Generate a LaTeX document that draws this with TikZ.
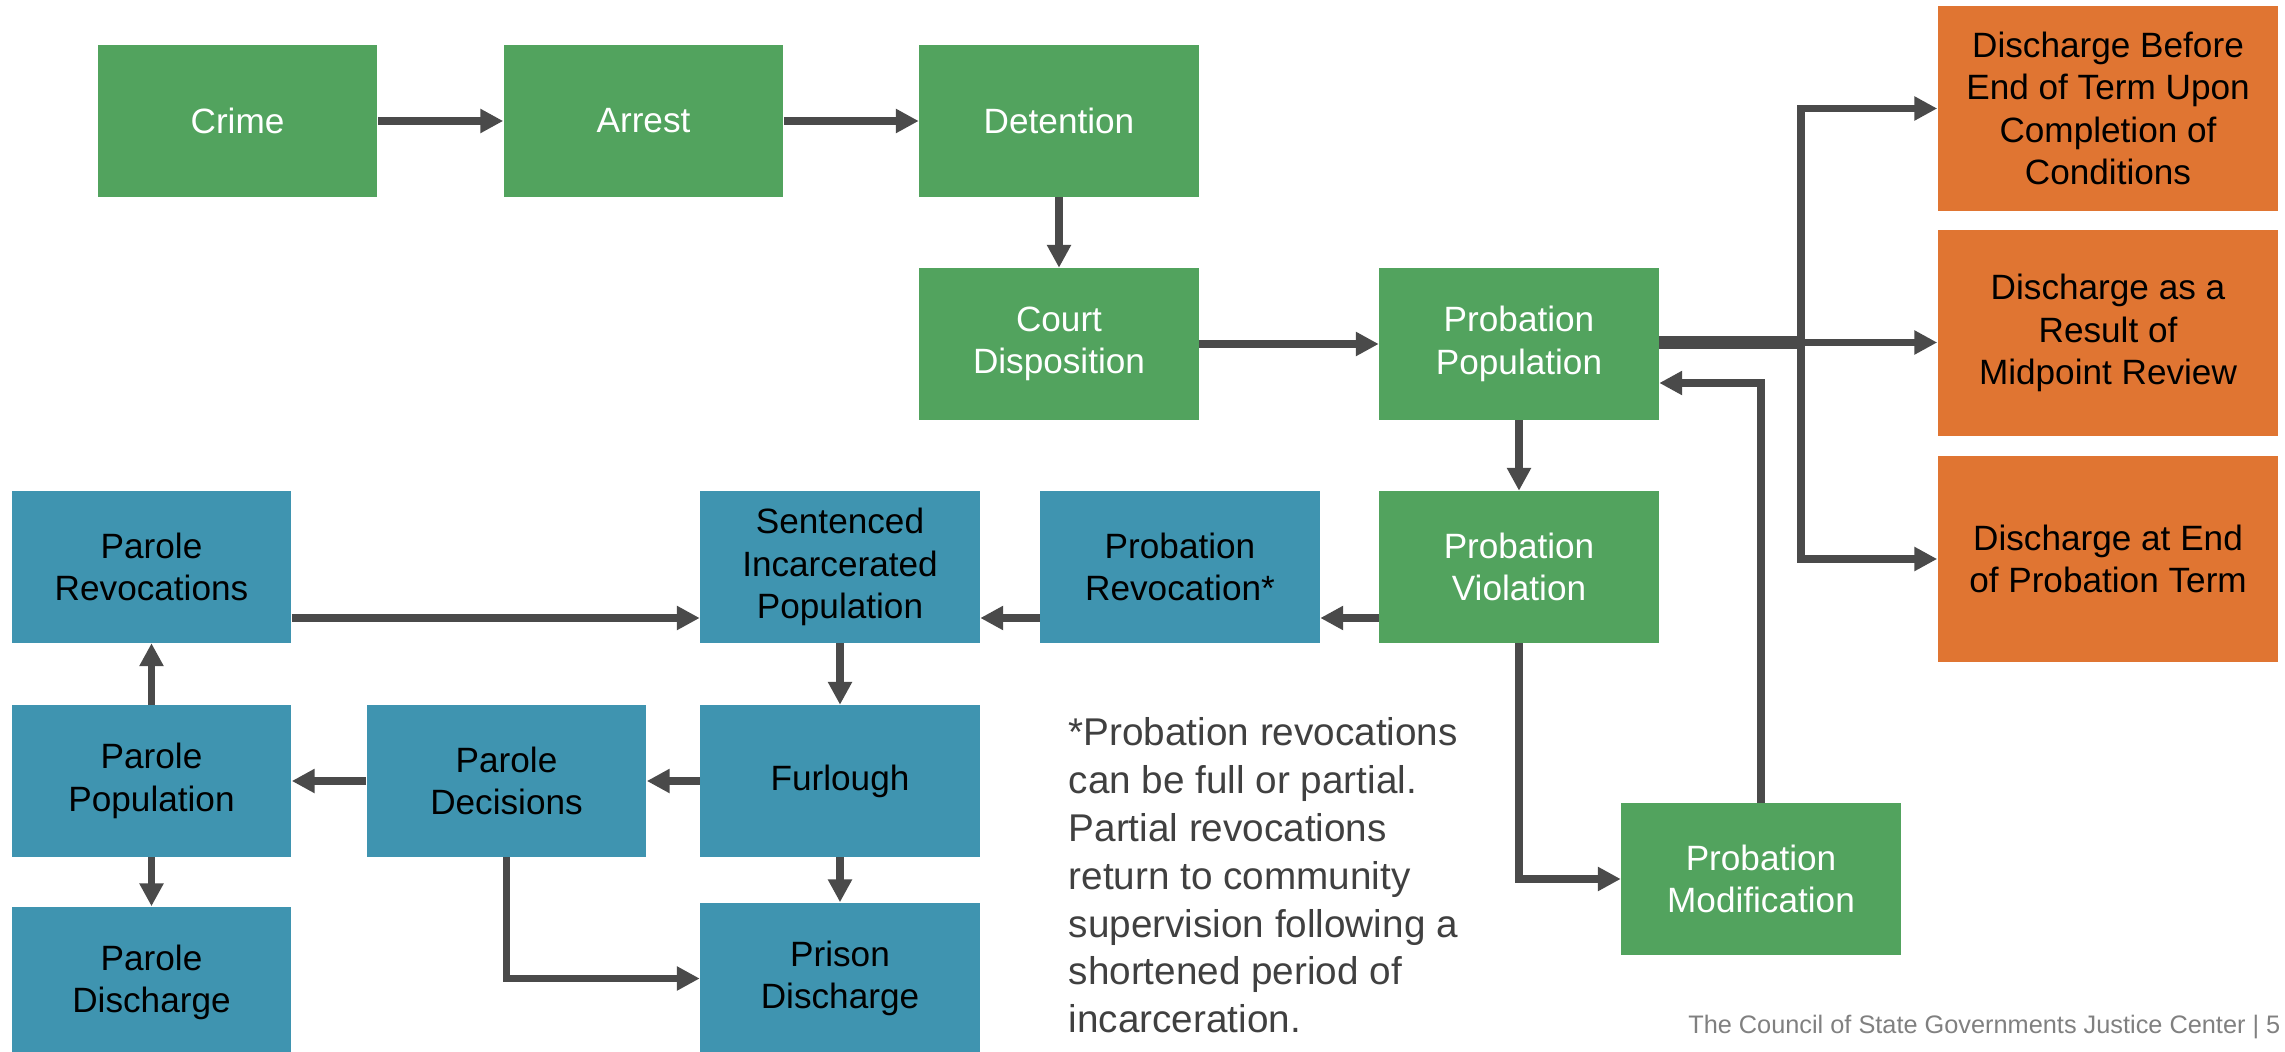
\documentclass[tikz,border=0pt]{standalone}
\usepackage{fontspec}
\setmainfont{Liberation Sans}
\usepackage{xcolor}
\usetikzlibrary{arrows.meta}
\usetikzlibrary{calc}
\definecolor{boxgreen}{HTML}{52A35E}
\definecolor{boxblue}{HTML}{3F94B0}
\definecolor{boxorange}{HTML}{E07532}
\definecolor{arrowgray}{HTML}{4A4A4A}
\definecolor{notegray}{HTML}{404040}
\definecolor{footgray}{HTML}{808080}
\tikzstyle{stage}=[rectangle,inner sep=0pt,minimum width=2.79cm,minimum height=1.51cm,align=center,font=\fontsize{10}{12}\selectfont]
\tikzstyle{greenstage}=[stage,fill=boxgreen,text=white]
\tikzstyle{bluestage}=[stage,fill=boxblue,text=black]
\tikzstyle{outcome}=[stage,fill=boxorange,text=black,minimum width=3.4cm,minimum height=2.05cm]
\tikzstyle{edge}=[draw,line width=2.2pt,arrowgray,-{Triangle[length=6.5pt,width=6.5pt]}]

\begin{document}
\begin{tikzpicture}[x=0.01cm,y=-0.01cm]

 \clip (0,0) rectangle (2285,1052);

 %green stages
   \foreach \x/\y/\name/\label in {237.5/121/crime/Crime, 643.5/121/arrest/Arrest, 1059/121/detention/Detention,
          1059/344/court/{Court\\Disposition}, 1519/344/ppop/{Probation\\Population},
          1519/567/pviol/{Probation\\Violation}, 1761/879/pmod/{Probation\\Modification}}
          \node[greenstage] (\name) at (\x,\y) {\label};

 %discharges
   \foreach \y/\name/\label in {108.5/dbefore/{Discharge Before\\End of Term Upon\\Completion of\\Conditions},
          333/dmid/{Discharge as a\\Result of\\Midpoint Review}, 559/dend/{Discharge at End\\of Probation Term}}
          \node[outcome] (\name) at (2108,\y) {\label};

 %blue stages
   \foreach \x/\y/\name/\label in {151.5/567/parrev/{Parole\\Revocations}, 840/567/sip/{Sentenced\\Incarcerated\\Population},
          1180/567/probrev/{Probation\\Revocation*}, 151.5/781/parpop/{Parole\\Population},
          506.5/781/pdec/{Parole\\Decisions}, 840/781/furl/Furlough,
          151.5/982.5/pardis/{Parole\\Discharge}, 840/978.5/prisdis/{Prison\\Discharge}}
          \node[bluestage] (\name) at (\x,\y) {\label};

 %straight connectors
  \foreach \source/ \dest in {crime/arrest, arrest/detention, detention/court, court/ppop, ppop/pviol,
          sip/furl, furl/pdec, pdec/parpop, parpop/parrev, parpop/pardis, furl/prisdis}
         \path[edge] (\source) -- (\dest);

  \path[edge] ($(pviol.west)+(0,51)$) -- ($(probrev.east)+(0,51)$);
  \path[edge] ($(probrev.west)+(0,51)$) -- ($(sip.east)+(0,51)$);
  \path[edge] ($(parrev.east)+(0,51)$) -- ($(sip.west)+(0,51)$);

 %elbows
  \path[edge] (pviol.south) |- (pmod.west);
  \path[edge] (pmod.north) |- ($(ppop.east)+(0,39)$);
  \path[edge] (pdec.south) |- (prisdis.west);

 %split to discharges
  \coordinate (split) at (1801,342.5);
  \draw[arrowgray,line width=3.5pt] (ppop.east |- split) -- (split);
  \path[edge] (ppop.east |- split) -- (split -| dmid.west);
  \path[edge] (split) |- (dbefore.west);
  \path[edge] (split) |- (dend.west);

 \node[anchor=north west,align=left,inner sep=0pt,text=notegray,font=\fontsize{11}{13.6}\selectfont] (note) at (1068,717)
      {*Probation revocations\\can be full or partial.\\Partial revocations\\return to community\\supervision following a\\shortened period of\\incarceration.};

 \node[anchor=east,inner sep=0pt,text=footgray,font=\fontsize{7.2}{9}\selectfont] (footer) at (2281,1027)
      {The Council of State Governments Justice Center | 5};

\end{tikzpicture}
\end{document}
